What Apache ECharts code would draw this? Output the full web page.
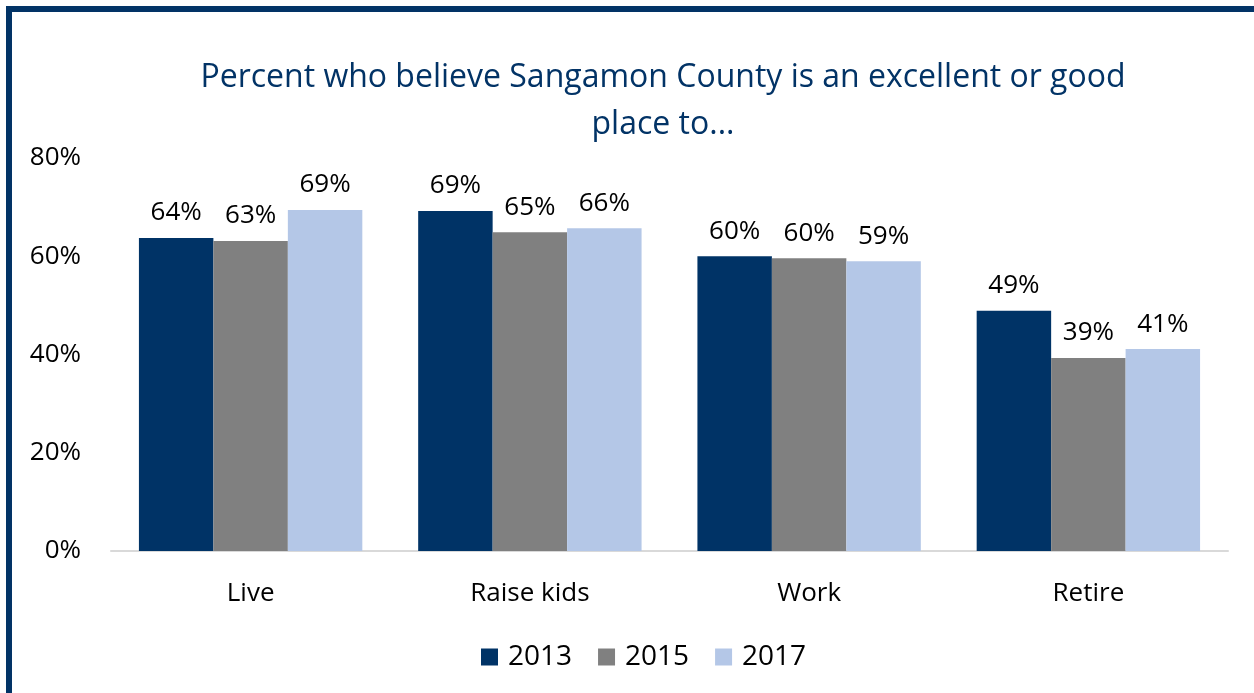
<!DOCTYPE html>
<html>
<head>
<meta charset="utf-8">
<script src="https://cdn.jsdelivr.net/npm/echarts@6/dist/echarts.min.js"></script>
<style>
  html, body { margin: 0; padding: 0; background: #fff; overflow: hidden; }
  #frame {
    position: absolute; left: 6px; top: 6px; width: 1400px; height: 800px;
    border-left: 6px solid #023366; border-top: 6px solid #023366;
  }
  #chart { position: absolute; left: 0; top: 0; width: 1254px; height: 693px; }
</style>
</head>
<body>
<div id="frame"></div>
<div id="chart"></div>
<script>
const categories = ['Live', 'Raise kids', 'Work', 'Retire'];
const years = ['2013', '2015', '2017'];
const values2013 = [63.7, 69.2, 60.0, 48.9];
const values2015 = [63.1, 64.9, 59.6, 39.3];
const values2017 = [69.4, 65.7, 59.0, 41.1];
const yTicks = [0, 20, 40, 60, 80];
const colors = ['#003366', '#808080', '#b4c7e7'];

const chart = echarts.init(document.getElementById('chart'));
const font = 'Open Sans, sans-serif';
const labelSize = 26;

const makeSeries = (name, data, color) => ({
  name: name,
  type: 'bar',
  data: data,
  barGap: '0%',
  barCategoryGap: '20%',
  itemStyle: { color: color },
  label: {
    show: true,
    position: 'top',
    distance: 12,
    color: '#000',
    fontFamily: font,
    fontSize: labelSize,
    formatter: (p) => Math.round(p.value) + '%',
  },
});

chart.setOption({
  animation: false,
  title: {
    text: 'Percent who believe Sangamon County is an excellent or good\nplace to...',
    left: 658,
    textAlign: 'center',
    top: 49,
    textStyle: {
      color: '#023366',
      fontFamily: font,
      fontSize: 32,
      fontWeight: 'normal',
      lineHeight: 47,
    },
  },
  legend: {
    bottom: 17,
    left: 476,
    itemWidth: 17,
    itemHeight: 17,
    itemGap: 26,
    icon: 'rect',
    textStyle: { color: '#000', fontFamily: font, fontSize: 28, padding: [0, 0, 0, 5] },
    data: years,
  },
  grid: { left: 111, right: 26, top: 158, bottom: 142 },
  xAxis: {
    type: 'category',
    data: categories,
    axisLine: { lineStyle: { color: '#d9d9d9', width: 2 } },
    axisTick: { show: false },
    axisLabel: { color: '#000', fontFamily: font, fontSize: labelSize, margin: 30 },
  },
  yAxis: {
    type: 'value',
    min: yTicks[0],
    max: yTicks[yTicks.length - 1],
    interval: 20,
    splitLine: { show: false },
    axisLine: { show: false },
    axisTick: { show: false },
    axisLabel: {
      color: '#000', fontFamily: font, fontSize: labelSize, margin: 30,
      formatter: '{value}%',
    },
  },
  series: [
    makeSeries(years[0], values2013, colors[0]),
    makeSeries(years[1], values2015, colors[1]),
    makeSeries(years[2], values2017, colors[2]),
  ],
});
</script>
</body>
</html>
